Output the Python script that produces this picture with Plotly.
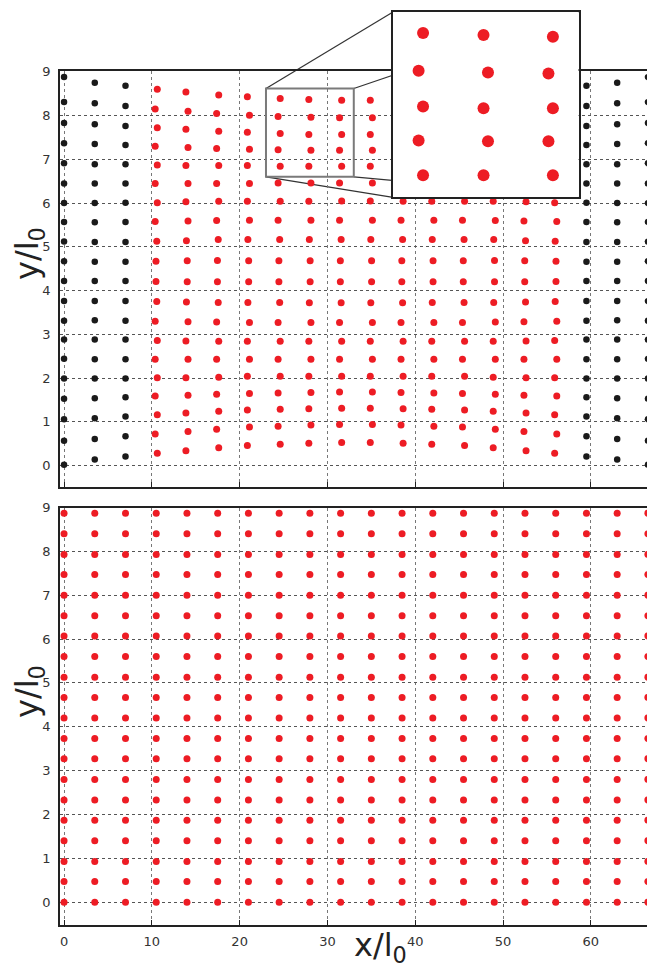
import plotly.graph_objects as go

# ---------------- data ----------------
COL_X = [0, 3.5, 7, 10.5, 14, 17.5, 21, 24.5, 28, 31.5,
         35, 38.5, 42, 45.5, 49, 52.5, 56, 59.5, 63, 66.5]

# y positions (bottom -> top) of each column profile in the upper panel
P0 = [0.02, 0.57, 1.06, 1.53, 1.99, 2.44, 2.88, 3.31, 3.76, 4.22,
      4.67, 5.12, 5.57, 6.00, 6.45, 6.91, 7.37, 7.83, 8.31, 8.88]
P1 = [0.14, 0.61, 1.08, 1.54, 1.99, 2.43, 2.88, 3.32, 3.76, 4.22,
      4.66, 5.11, 5.56, 6.00, 6.45, 6.89, 7.35, 7.80, 8.28, 8.75]
P2 = [0.21, 0.67, 1.12, 1.56, 1.99, 2.43, 2.88, 3.31, 3.76, 4.22,
      4.66, 5.11, 5.57, 6.01, 6.45, 6.89, 7.33, 7.76, 8.22, 8.68]
P3 = [0.28, 0.72, 1.16, 1.59, 2.01, 2.43, 2.86, 3.30, 3.75, 4.21,
      4.67, 5.13, 5.58, 6.01, 6.45, 6.87, 7.30, 7.72, 8.15, 8.60]
P4 = [0.34, 0.78, 1.20, 1.61, 2.01, 2.43, 2.85, 3.29, 3.74, 4.20,
      4.68, 5.14, 5.59, 6.03, 6.45, 6.86, 7.27, 7.69, 8.10, 8.54]
P5 = [0.41, 0.83, 1.24, 1.63, 2.02, 2.43, 2.84, 3.28, 3.73, 4.20,
      4.69, 5.17, 5.60, 6.04, 6.45, 6.86, 7.25, 7.64, 8.05, 8.47]
P6 = [0.46, 0.88, 1.27, 1.65, 2.04, 2.43, 2.84, 3.27, 3.73, 4.20,
      4.68, 5.17, 5.61, 6.04, 6.45, 6.86, 7.23, 7.62, 8.01, 8.43]
P7 = [0.49, 0.90, 1.29, 1.66, 2.04, 2.43, 2.84, 3.27, 3.73, 4.20,
      4.68, 5.17, 5.61, 6.04, 6.46, 6.84, 7.22, 7.59, 7.98, 8.39]
P8 = [0.51, 0.93, 1.30, 1.67, 2.04, 2.43, 2.84, 3.27, 3.72, 4.20,
      4.68, 5.17, 5.61, 6.04, 6.46, 6.84, 7.21, 7.57, 7.96, 8.37]
P9 = [0.53, 0.94, 1.31, 1.68, 2.04, 2.43, 2.84, 3.27, 3.72, 4.20,
      4.68, 5.17, 5.61, 6.05, 6.46, 6.84, 7.21, 7.57, 7.95, 8.35]

TOP_COLUMNS_Y = [P0, P1, P2, P3, P4, P5, P6, P7, P8, P9,
                 P9, P8, P7, P6, P5, P4, P3, P2, P1, P0]

# small horizontal displacement of each point (bottom -> top)
DX_0 = [0.0] * 20
DX_A = [0.12, -0.12, 0.12, -0.12, 0.12, -0.12, 0.12, -0.12, 0.06, -0.03,
        -0.03, 0.06, -0.12, 0.12, -0.12, 0.12, -0.12, 0.12, -0.12, 0.12]
DX_B = [-0.12, 0.12, -0.12, 0.12, -0.12, 0.12, -0.12, 0.12, -0.06, 0.03,
        0.03, -0.06, 0.12, -0.12, 0.12, -0.12, 0.12, -0.12, 0.12, -0.12]
TOP_COLUMNS_DX = [DX_0, DX_0, DX_0, DX_A, DX_B, DX_A, DX_B, DX_A, DX_B, DX_A,
                  DX_B, DX_A, DX_B, DX_A, DX_B, DX_A, DX_B, DX_0, DX_0, DX_0]
TOP_COLUMNS_KIND = ["fixed", "fixed", "fixed",
                    "free", "free", "free", "free", "free", "free", "free",
                    "free", "free", "free", "free", "free", "free", "free",
                    "fixed", "fixed", "fixed"]

# lower panel: regular lattice
BOTTOM_ROWS_Y = [0.00, 0.47, 0.93, 1.40, 1.87, 2.33, 2.80, 3.27, 3.73, 4.20,
                 4.67, 5.13, 5.60, 6.07, 6.53, 7.00, 7.47, 7.93, 8.40, 8.87]

X_TICKS = [0, 10, 20, 30, 40, 50, 60]
Y_TICKS = [0, 1, 2, 3, 4, 5, 6, 7, 8, 9]

INSET_X = [23.0, 33.0]
INSET_Y = [6.60, 8.62]

# ---------------- style / layout constants ----------------
# the figure is a little wider than the 647px window: its right edge is cropped,
# as in the reference image
W, H = 662, 967
ML, MR, MT, MB = 60, 0, 12, 42
PW, PH = W - ML - MR, H - MT - MB

RED = "#ED1C24"
BLACK = "#1a1a1a"
FONT = "DejaVu Sans"

PX_PER_X = 8.78
X_RANGE = [-0.46, -0.46 + PW / PX_PER_X]
TOP_Y_RANGE = [-0.49, 9.02]
BOT_Y_RANGE = [-0.52, 9.0]


def ydom(top_px, bot_px):
    return [(H - MB - bot_px) / PH, (H - MB - top_px) / PH]


def xdom(left_px, right_px):
    return [(left_px - ML) / PW, (right_px - ML) / PW]


TOP_DOM = ydom(71, 487)
BOT_DOM = ydom(507.5, 925)
INSET_YDOM = ydom(12, 197.3)
INSET_XDOM = xdom(393, 578.5)

# ---------------- build points ----------------
fx, fy, rx, ry = [], [], [], []
for cx, ys, dxs, kind in zip(COL_X, TOP_COLUMNS_Y, TOP_COLUMNS_DX, TOP_COLUMNS_KIND):
    for yv, dv in zip(ys, dxs):
        if kind == "fixed":
            fx.append(cx + dv)
            fy.append(yv)
        else:
            rx.append(cx + dv)
            ry.append(yv)

bx, by = [], []
for cx in COL_X:
    for yv in BOTTOM_ROWS_Y:
        bx.append(cx)
        by.append(yv)

fig = go.Figure()
fig.add_trace(go.Scatter(x=fx, y=fy, mode="markers", xaxis="x", yaxis="y",
                         marker=dict(size=6.5, color=BLACK), cliponaxis=False,
                         showlegend=False, hoverinfo="skip"))
fig.add_trace(go.Scatter(x=rx, y=ry, mode="markers", xaxis="x", yaxis="y",
                         marker=dict(size=7, color=RED), cliponaxis=False,
                         showlegend=False, hoverinfo="skip"))
fig.add_trace(go.Scatter(x=bx, y=by, mode="markers", xaxis="x2", yaxis="y2",
                         marker=dict(size=7, color=RED), cliponaxis=False,
                         showlegend=False, hoverinfo="skip"))
fig.add_trace(go.Scatter(x=rx, y=ry, mode="markers", xaxis="x3", yaxis="y3",
                         marker=dict(size=12, color=RED), cliponaxis=True,
                         showlegend=False, hoverinfo="skip"))

grid_common = dict(showgrid=True, griddash="dot", gridwidth=1, zeroline=False,
                   showline=True, linecolor="#222", linewidth=1.5,
                   tickfont=dict(family=FONT, size=13, color="#333"))

xcommon = dict(grid_common, range=X_RANGE, tickvals=X_TICKS, gridcolor="#777",
               ticks="inside", ticklen=5, tickcolor="#222", mirror=True)
ycommon = dict(grid_common, tickvals=Y_TICKS, gridcolor="#555",
               ticks="", mirror=False, ticklabelstandoff=5)

fig.update_layout(
    width=W, height=H,
    margin=dict(l=ML, r=MR, t=MT, b=MB, autoexpand=False),
    paper_bgcolor="white", plot_bgcolor="white",
    showlegend=False,
    xaxis=dict(xcommon, domain=[0, 1], anchor="y", showticklabels=False),
    yaxis=dict(ycommon, domain=TOP_DOM, range=TOP_Y_RANGE, anchor="x"),
    xaxis2=dict(xcommon, domain=[0, 1], anchor="y2", showticklabels=True,
                ticklabelstandoff=4),
    yaxis2=dict(ycommon, domain=BOT_DOM, range=BOT_Y_RANGE, anchor="x2"),
    xaxis3=dict(domain=INSET_XDOM, range=INSET_X, anchor="y3", showgrid=False,
                zeroline=False, showticklabels=False, ticks="", showline=True,
                mirror=True, linecolor="#222", linewidth=1.5),
    yaxis3=dict(domain=INSET_YDOM, range=INSET_Y, anchor="x3", showgrid=False,
                zeroline=False, showticklabels=False, ticks="", showline=True,
                mirror=True, linecolor="#222", linewidth=1.5),
)


# zoom rectangle in the upper panel
fig.add_shape(type="rect", xref="x", yref="y",
              x0=INSET_X[0], x1=INSET_X[1], y0=INSET_Y[0], y1=INSET_Y[1],
              line=dict(color="#7a7a7a", width=2), layer="above")


def to_paper(xv, yv):
    px = (xv - X_RANGE[0]) / (X_RANGE[1] - X_RANGE[0])
    py = TOP_DOM[0] + (yv - TOP_Y_RANGE[0]) / (TOP_Y_RANGE[1] - TOP_Y_RANGE[0]) * (TOP_DOM[1] - TOP_DOM[0])
    return px, py


corners = [
    (INSET_X[0], INSET_Y[1], INSET_XDOM[0], INSET_YDOM[1]),
    (INSET_X[1], INSET_Y[1], INSET_XDOM[1], INSET_YDOM[1]),
    (INSET_X[0], INSET_Y[0], INSET_XDOM[0], INSET_YDOM[0]),
    (INSET_X[1], INSET_Y[0], INSET_XDOM[1], INSET_YDOM[0]),
]
for xv, yv, ipx, ipy in corners:
    p0x, p0y = to_paper(xv, yv)
    fig.add_shape(type="line", xref="paper", yref="paper",
                  x0=p0x, y0=p0y, x1=ipx, y1=ipy,
                  line=dict(color="#333", width=1.2), layer="below")


# axis titles
def py_px(ypix):
    return (H - MB - ypix) / PH


def px_px(xpix):
    return (xpix - ML) / PW


title_font = dict(family=FONT, size=32, color="#222")
fig.add_annotation(text="y/l<sub>0</sub>", xref="paper", yref="paper",
                   x=px_px(29), y=py_px(254), textangle=-90, showarrow=False,
                   xanchor="center", yanchor="middle", font=title_font)
fig.add_annotation(text="y/l<sub>0</sub>", xref="paper", yref="paper",
                   x=px_px(29), y=py_px(692), textangle=-90, showarrow=False,
                   xanchor="center", yanchor="middle", font=title_font)
fig.add_annotation(text="x/l<sub>0</sub>", xref="paper", yref="paper",
                   x=px_px(380), y=py_px(970), showarrow=False,
                   xanchor="center", yanchor="bottom", font=title_font)

fig.write_html("out.html",
               config={"displayModeBar": False},
               post_script="document.body.style.margin='0px';"
                           "document.body.style.overflow='hidden';")
